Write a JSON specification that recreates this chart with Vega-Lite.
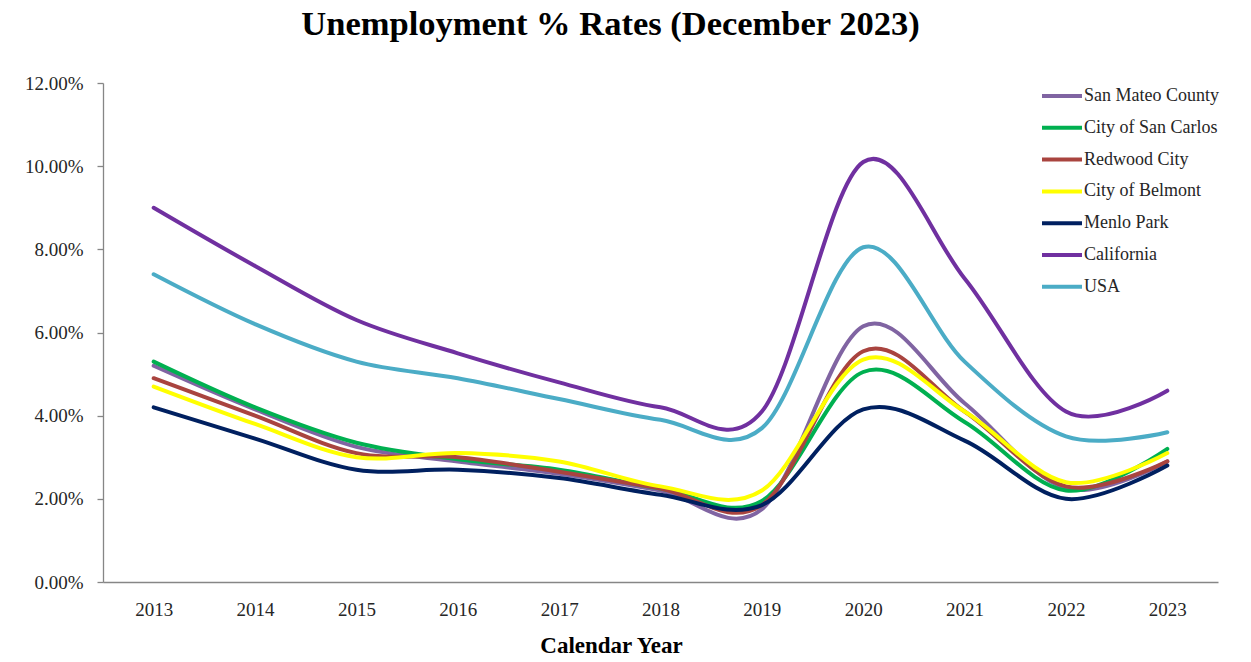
{
  "$schema": "https://vega.github.io/schema/vega-lite/v6.json",
  "width": 1115,
  "height": 499,
  "autosize": {"type": "none"},
  "padding": {"left": 103, "top": 83, "right": 33, "bottom": 80},
  "background": "white",
  "config": {
    "view": {"stroke": null},
    "font": "Liberation Serif"
  },
  "title": {
    "text": "Unemployment % Rates (December 2023)",
    "font": "Liberation Serif",
    "fontSize": 34.5,
    "fontWeight": "bold",
    "color": "#000000",
    "anchor": "middle",
    "frame": "group",
    "baseline": "alphabetic",
    "offset": 5,
    "dx": -50
  },
  "data": {
    "values": [
      {"year": "2013", "area": "San Mateo County", "rate": 5.2},
      {"year": "2014", "area": "San Mateo County", "rate": 4.15},
      {"year": "2015", "area": "San Mateo County", "rate": 3.25},
      {"year": "2016", "area": "San Mateo County", "rate": 2.9},
      {"year": "2017", "area": "San Mateo County", "rate": 2.6},
      {"year": "2018", "area": "San Mateo County", "rate": 2.2},
      {"year": "2019", "area": "San Mateo County", "rate": 1.75},
      {"year": "2020", "area": "San Mateo County", "rate": 6.15},
      {"year": "2021", "area": "San Mateo County", "rate": 4.3},
      {"year": "2022", "area": "San Mateo County", "rate": 2.25},
      {"year": "2023", "area": "San Mateo County", "rate": 2.9},

      {"year": "2013", "area": "City of San Carlos", "rate": 5.3},
      {"year": "2014", "area": "City of San Carlos", "rate": 4.2},
      {"year": "2015", "area": "City of San Carlos", "rate": 3.35},
      {"year": "2016", "area": "City of San Carlos", "rate": 2.95},
      {"year": "2017", "area": "City of San Carlos", "rate": 2.7},
      {"year": "2018", "area": "City of San Carlos", "rate": 2.25},
      {"year": "2019", "area": "City of San Carlos", "rate": 1.95},
      {"year": "2020", "area": "City of San Carlos", "rate": 5.05},
      {"year": "2021", "area": "City of San Carlos", "rate": 3.85},
      {"year": "2022", "area": "City of San Carlos", "rate": 2.2},
      {"year": "2023", "area": "City of San Carlos", "rate": 3.2},

      {"year": "2013", "area": "Redwood City", "rate": 4.9},
      {"year": "2014", "area": "Redwood City", "rate": 4.0},
      {"year": "2015", "area": "Redwood City", "rate": 3.1},
      {"year": "2016", "area": "Redwood City", "rate": 3.0},
      {"year": "2017", "area": "Redwood City", "rate": 2.65},
      {"year": "2018", "area": "Redwood City", "rate": 2.25},
      {"year": "2019", "area": "Redwood City", "rate": 1.85},
      {"year": "2020", "area": "Redwood City", "rate": 5.55},
      {"year": "2021", "area": "Redwood City", "rate": 4.1},
      {"year": "2022", "area": "Redwood City", "rate": 2.3},
      {"year": "2023", "area": "Redwood City", "rate": 2.9},

      {"year": "2013", "area": "City of Belmont", "rate": 4.7},
      {"year": "2014", "area": "City of Belmont", "rate": 3.8},
      {"year": "2015", "area": "City of Belmont", "rate": 3.0},
      {"year": "2016", "area": "City of Belmont", "rate": 3.1},
      {"year": "2017", "area": "City of Belmont", "rate": 2.9},
      {"year": "2018", "area": "City of Belmont", "rate": 2.3},
      {"year": "2019", "area": "City of Belmont", "rate": 2.2},
      {"year": "2020", "area": "City of Belmont", "rate": 5.35},
      {"year": "2021", "area": "City of Belmont", "rate": 4.1},
      {"year": "2022", "area": "City of Belmont", "rate": 2.4},
      {"year": "2023", "area": "City of Belmont", "rate": 3.1},

      {"year": "2013", "area": "Menlo Park", "rate": 4.2},
      {"year": "2014", "area": "Menlo Park", "rate": 3.45},
      {"year": "2015", "area": "Menlo Park", "rate": 2.7},
      {"year": "2016", "area": "Menlo Park", "rate": 2.7},
      {"year": "2017", "area": "Menlo Park", "rate": 2.5},
      {"year": "2018", "area": "Menlo Park", "rate": 2.1},
      {"year": "2019", "area": "Menlo Park", "rate": 1.85},
      {"year": "2020", "area": "Menlo Park", "rate": 4.15},
      {"year": "2021", "area": "Menlo Park", "rate": 3.4},
      {"year": "2022", "area": "Menlo Park", "rate": 2.0},
      {"year": "2023", "area": "Menlo Park", "rate": 2.8},

      {"year": "2013", "area": "California", "rate": 9.0},
      {"year": "2014", "area": "California", "rate": 7.6},
      {"year": "2015", "area": "California", "rate": 6.3},
      {"year": "2016", "area": "California", "rate": 5.5},
      {"year": "2017", "area": "California", "rate": 4.8},
      {"year": "2018", "area": "California", "rate": 4.2},
      {"year": "2019", "area": "California", "rate": 4.1},
      {"year": "2020", "area": "California", "rate": 10.1},
      {"year": "2021", "area": "California", "rate": 7.3},
      {"year": "2022", "area": "California", "rate": 4.1},
      {"year": "2023", "area": "California", "rate": 4.6},

      {"year": "2013", "area": "USA", "rate": 7.4},
      {"year": "2014", "area": "USA", "rate": 6.2},
      {"year": "2015", "area": "USA", "rate": 5.3},
      {"year": "2016", "area": "USA", "rate": 4.9},
      {"year": "2017", "area": "USA", "rate": 4.4},
      {"year": "2018", "area": "USA", "rate": 3.9},
      {"year": "2019", "area": "USA", "rate": 3.7},
      {"year": "2020", "area": "USA", "rate": 8.05},
      {"year": "2021", "area": "USA", "rate": 5.3},
      {"year": "2022", "area": "USA", "rate": 3.5},
      {"year": "2023", "area": "USA", "rate": 3.6}
    ]
  },
  "mark": {
    "type": "line",
    "interpolate": "cardinal",
    "tension": 0,
    "strokeWidth": 4,
    "strokeCap": "round"
  },
  "encoding": {
    "x": {
      "field": "year",
      "type": "ordinal",
      "scale": {"type": "point", "padding": 0.5},
      "axis": {
        "title": "Calendar Year",
        "titleFont": "Liberation Serif",
        "titleFontSize": 23,
        "titleFontWeight": "bold",
        "titleColor": "#000000",
        "titleX": 508,
        "titleY": 70,
        "titleBaseline": "alphabetic",
        "titleAnchor": null,
        "labelAngle": 0,
        "labelFont": "Liberation Serif",
        "labelFontSize": 19,
        "labelColor": "#262626",
        "labelPadding": 18,
        "ticks": false,
        "domainColor": "#868686",
        "domainWidth": 1.3,
        "grid": false
      }
    },
    "y": {
      "field": "rate",
      "type": "quantitative",
      "scale": {"domain": [0, 12], "nice": false, "zero": true},
      "axis": {
        "title": null,
        "values": [0, 2, 4, 6, 8, 10, 12],
        "labelExpr": "format(datum.value, '.2f') + '%'",
        "labelFont": "Liberation Serif",
        "labelFontSize": 19,
        "labelColor": "#262626",
        "labelPadding": 14,
        "tickSize": 6,
        "tickColor": "#868686",
        "tickWidth": 1.3,
        "domainColor": "#868686",
        "domainWidth": 1.3,
        "grid": false
      }
    },
    "color": {
      "field": "area",
      "type": "nominal",
      "sort": ["San Mateo County", "City of San Carlos", "Redwood City", "City of Belmont", "Menlo Park", "California", "USA"],
      "scale": {
        "domain": ["San Mateo County", "City of San Carlos", "Redwood City", "City of Belmont", "Menlo Park", "California", "USA"],
        "range": ["#8064A2", "#00B050", "#A9443F", "#FFFF00", "#002060", "#7030A0", "#4BACC6"]
      },
      "legend": {
        "title": null,
        "orient": "none",
        "legendX": 947,
        "legendY": 1,
        "padding": 0,
        "symbolType": "M-2,0L2,0",
        "symbolSize": 400,
        "symbolStrokeWidth": 4,
        "labelOffset": 10,
        "rowPadding": 10.8,
        "labelFont": "Liberation Serif",
        "labelFontSize": 18,
        "labelColor": "#262626",
        "labelLimit": 300
      }
    }
  }
}
